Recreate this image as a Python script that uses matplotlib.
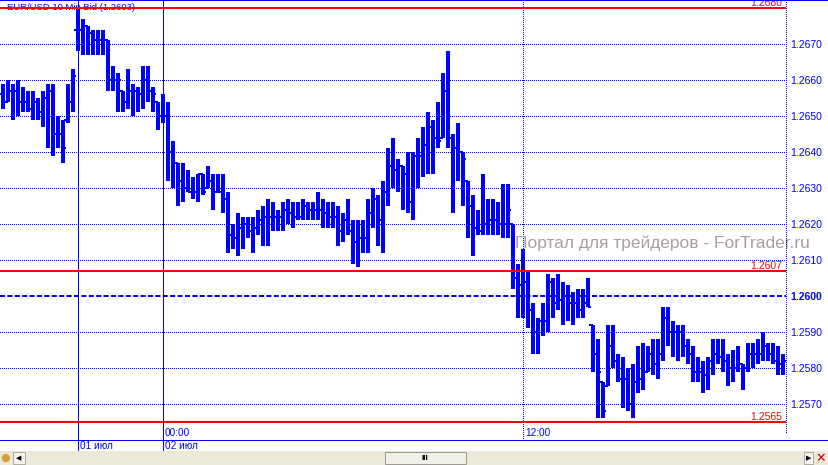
import matplotlib
matplotlib.use('Agg')
import matplotlib.pyplot as plt
from matplotlib.transforms import blended_transform_factory
from matplotlib.patches import Rectangle
from matplotlib.lines import Line2D
import numpy as np

plt.rcParams['font.family'] = ['Liberation Sans', 'DejaVu Sans']

# 10-minute EUR/USD bars
opens = [
    1.2656, 1.2654, 1.2657, 1.2657, 1.2654, 1.2654, 1.2652, 1.2654, 1.2651, 1.2655, 1.2657,
    1.2645, 1.2645, 1.2649, 1.2654, 1.2674, 1.2674, 1.2675, 1.2673, 1.2671, 1.2671, 1.2671,
    1.2660, 1.2660, 1.2657, 1.2654, 1.2657, 1.2657, 1.2656, 1.2660, 1.2657, 1.2654, 1.2650,
    1.2650, 1.2640, 1.2637, 1.2632, 1.2630, 1.2629, 1.2629, 1.2634, 1.2630, 1.2632, 1.2629,
    1.2629, 1.2627, 1.2617, 1.2616, 1.2619, 1.2620, 1.2618, 1.2619, 1.2621, 1.2622, 1.2622,
    1.2622, 1.2622, 1.2624, 1.2623, 1.2622, 1.2622, 1.2625, 1.2624, 1.2624, 1.2624,
    1.2623, 1.2622, 1.2622, 1.2618, 1.2621, 1.2618, 1.2615, 1.2616, 1.2616, 1.2623, 1.2627,
    1.2621, 1.2629, 1.2636, 1.2635, 1.2636, 1.2634, 1.2626, 1.2639, 1.2639, 1.2642, 1.2647,
    1.2644, 1.2644, 1.2657, 1.2644, 1.2641, 1.2640, 1.2632, 1.2625, 1.2619, 1.2618,
    1.2620, 1.2621, 1.2621, 1.2620, 1.2620, 1.2620, 1.2605, 1.2603, 1.2604, 1.2596, 1.2590,
    1.2593, 1.2593, 1.2604, 1.2598, 1.2599, 1.2600, 1.2598, 1.2598, 1.2596, 1.2598, 1.2592,
    1.2584, 1.2576, 1.2575, 1.2586, 1.2582, 1.2577, 1.2577, 1.2570, 1.2576,
    1.2577, 1.2579, 1.2584, 1.2581, 1.2584, 1.2594, 1.2590, 1.2590, 1.2590, 1.2586, 1.2584,
    1.2579, 1.2579, 1.2578, 1.2582, 1.2584, 1.2583, 1.2582, 1.2580, 1.2580, 1.2581, 1.2580,
    1.2584, 1.2584, 1.2584, 1.2586, 1.2584, 1.2582, 1.2581,
]
highs = [
    1.2659, 1.2660, 1.2659, 1.2660, 1.2658, 1.2657, 1.2657, 1.2655, 1.2657, 1.2659, 1.2659,
    1.2650, 1.2649, 1.2659, 1.2663, 1.2680, 1.2677, 1.2675, 1.2674, 1.2674, 1.2674, 1.2671,
    1.2664, 1.2662, 1.2657, 1.2663, 1.2659, 1.2658, 1.2664, 1.2664, 1.2658, 1.2654, 1.2656,
    1.2654, 1.2643, 1.2637, 1.2637, 1.2635, 1.2633, 1.2634, 1.2634, 1.2636, 1.2634, 1.2634,
    1.2634, 1.2629, 1.2620, 1.2623, 1.2622, 1.2622, 1.2622, 1.2624, 1.2625, 1.2627, 1.2626,
    1.2624, 1.2626, 1.2627, 1.2626, 1.2626, 1.2627, 1.2626, 1.2626, 1.2629, 1.2627,
    1.2626, 1.2626, 1.2625, 1.2623, 1.2627, 1.2621, 1.2621, 1.2621, 1.2627, 1.2630, 1.2628,
    1.2632, 1.2641, 1.2644, 1.2638, 1.2636, 1.2640, 1.2640, 1.2644, 1.2647, 1.2651, 1.2649,
    1.2654, 1.2662, 1.2668, 1.2645, 1.2648, 1.2640, 1.2632, 1.2628, 1.2624, 1.2634,
    1.2627, 1.2627, 1.2626, 1.2631, 1.2631, 1.2620, 1.2609, 1.2613, 1.2607, 1.2598, 1.2594,
    1.2598, 1.2606, 1.2605, 1.2606, 1.2604, 1.2603, 1.2601, 1.2602, 1.2602, 1.2605, 1.2592,
    1.2588, 1.2576, 1.2592, 1.2592, 1.2584, 1.2583, 1.2580, 1.2581, 1.2586,
    1.2587, 1.2586, 1.2588, 1.2588, 1.2597, 1.2597, 1.2593, 1.2592, 1.2592, 1.2588, 1.2586,
    1.2583, 1.2582, 1.2583, 1.2588, 1.2588, 1.2588, 1.2584, 1.2585, 1.2586, 1.2581, 1.2587,
    1.2587, 1.2588, 1.2590, 1.2587, 1.2587, 1.2586, 1.2584,
]
lows = [
    1.2652, 1.2654, 1.2649, 1.2650, 1.2651, 1.2651, 1.2649, 1.2649, 1.2647, 1.2641, 1.2639,
    1.2641, 1.2637, 1.2648, 1.2651, 1.2668, 1.2667, 1.2667, 1.2667, 1.2667, 1.2667, 1.2657,
    1.2657, 1.2651, 1.2651, 1.2652, 1.2650, 1.2651, 1.2652, 1.2654, 1.2651, 1.2646, 1.2648,
    1.2632, 1.2630, 1.2625, 1.2626, 1.2629, 1.2627, 1.2626, 1.2628, 1.2630, 1.2624, 1.2629,
    1.2623, 1.2612, 1.2613, 1.2611, 1.2613, 1.2616, 1.2612, 1.2617, 1.2614, 1.2614, 1.2618,
    1.2618, 1.2618, 1.2620, 1.2619, 1.2621, 1.2621, 1.2621, 1.2621, 1.2621, 1.2619,
    1.2619, 1.2619, 1.2614, 1.2615, 1.2617, 1.2609, 1.2608, 1.2612, 1.2612, 1.2619, 1.2614,
    1.2612, 1.2625, 1.2630, 1.2629, 1.2624, 1.2623, 1.2621, 1.2630, 1.2633, 1.2634, 1.2634,
    1.2641, 1.2644, 1.2641, 1.2623, 1.2632, 1.2625, 1.2616, 1.2611, 1.2617, 1.2617,
    1.2617, 1.2617, 1.2617, 1.2616, 1.2616, 1.2602, 1.2594, 1.2594, 1.2591, 1.2584, 1.2584,
    1.2589, 1.2590, 1.2594, 1.2596, 1.2592, 1.2593, 1.2592, 1.2594, 1.2594, 1.2597, 1.2579,
    1.2566, 1.2566, 1.2575, 1.2580, 1.2576, 1.2569, 1.2568, 1.2566, 1.2573,
    1.2574, 1.2579, 1.2578, 1.2577, 1.2582, 1.2586, 1.2583, 1.2582, 1.2583, 1.2581, 1.2576,
    1.2576, 1.2573, 1.2574, 1.2578, 1.2581, 1.2579, 1.2575, 1.2576, 1.2579, 1.2574, 1.2579,
    1.2580, 1.2581, 1.2582, 1.2582, 1.2581, 1.2578, 1.2578,
]
closes = [
    1.2654, 1.2657, 1.2657, 1.2654, 1.2654, 1.2652, 1.2654, 1.2651, 1.2655, 1.2657, 1.2645,
    1.2645, 1.2641, 1.2654, 1.2661, 1.2674, 1.2675, 1.2673, 1.2671, 1.2671, 1.2671, 1.2660,
    1.2660, 1.2660, 1.2654, 1.2657, 1.2657, 1.2656, 1.2660, 1.2657, 1.2656, 1.2650, 1.2650,
    1.2640, 1.2637, 1.2632, 1.2630, 1.2629, 1.2629, 1.2634, 1.2629, 1.2632, 1.2629, 1.2629,
    1.2627, 1.2617, 1.2616, 1.2619, 1.2620, 1.2618, 1.2619, 1.2621, 1.2622, 1.2622, 1.2622,
    1.2622, 1.2624, 1.2623, 1.2622, 1.2622, 1.2625, 1.2624, 1.2624, 1.2624, 1.2623,
    1.2622, 1.2622, 1.2618, 1.2621, 1.2618, 1.2615, 1.2616, 1.2616, 1.2623, 1.2627, 1.2621,
    1.2629, 1.2636, 1.2635, 1.2636, 1.2634, 1.2626, 1.2639, 1.2639, 1.2642, 1.2647, 1.2644,
    1.2643, 1.2657, 1.2644, 1.2641, 1.2640, 1.2638, 1.2625, 1.2619, 1.2618, 1.2620,
    1.2621, 1.2621, 1.2620, 1.2620, 1.2624, 1.2605, 1.2603, 1.2604, 1.2596, 1.2590, 1.2593,
    1.2593, 1.2604, 1.2598, 1.2599, 1.2600, 1.2598, 1.2598, 1.2596, 1.2598, 1.2597, 1.2584,
    1.2579, 1.2568, 1.2586, 1.2582, 1.2577, 1.2577, 1.2570, 1.2576, 1.2577,
    1.2579, 1.2584, 1.2581, 1.2584, 1.2594, 1.2590, 1.2590, 1.2590, 1.2586, 1.2584, 1.2579,
    1.2579, 1.2578, 1.2582, 1.2584, 1.2583, 1.2582, 1.2580, 1.2580, 1.2581, 1.2580, 1.2584,
    1.2584, 1.2584, 1.2586, 1.2584, 1.2582, 1.2581, 1.2582,
]

grid_levels = [1.2570, 1.2580, 1.2590, 1.2610, 1.2620, 1.2630, 1.2640, 1.2650, 1.2660, 1.2670]
axis_levels = [1.2570, 1.2580, 1.2590, 1.2600, 1.2610, 1.2620, 1.2630, 1.2640, 1.2650, 1.2660, 1.2670]
red_levels = [1.2680, 1.2607, 1.2565]
bid_level = 1.2600
title = 'EUR/USD 10 Min Bid (1.2603)'
watermark = 'Портал для трейдеров - ForTrader.ru'
time_labels = {32: '00:00', 104: '12:00'}
date_labels = {15: '01 июл', 32: '02 июл'}
day_lines = [15, 32]
half_day_lines = [104]

BLUE = '#0000ff'
RED = '#ff0000'
W, H = 829, 465
px = 0.72  # one pixel in points at dpi 100

fig = plt.figure(figsize=(W / 100, H / 100), dpi=100)
ax = fig.add_axes([0, 41 / H, 786 / W, 424 / H])
ax.set_xlim(-0.54, 156.66)
ax.set_ylim(1.256444, 1.268222)
for s in ax.spines.values():
    s.set_visible(False)
ax.set_xticks([])

x = np.arange(len(closes))

# grid
for lv in grid_levels:
    ax.axhline(lv, color=BLUE, lw=px, ls=(0, (1, 2)), zorder=1, antialiased=False)
ax.axhline(bid_level, color=BLUE, lw=2 * px, ls=(0, (2.5, 1.2)), zorder=1.5)

blend = blended_transform_factory(ax.transData, ax.transAxes)
for d in day_lines:
    ax.plot([d, d], [1, -27 / 424], color=BLUE, lw=px, transform=blend,
            clip_on=False, zorder=1, antialiased=False)
for d in half_day_lines:
    ax.plot([d, d], [1, -16 / 424], color=BLUE, lw=px, ls=(0, (1, 2)),
            transform=blend, clip_on=False, zorder=1, antialiased=False)
ax.plot([1, 1], [1, -9 / 424], color=BLUE, lw=px, ls=(0, (1, 2)),
        transform=ax.transAxes, clip_on=False, antialiased=False)

# watermark and title
ax.text(515 / 786, 1 - 243 / 424, watermark, transform=ax.transAxes, fontsize=12.5,
        color='#aa9e9e', va='center', ha='left', clip_on=False, zorder=1.2)
ax.text(7 / 786, 1 - 7 / 424, title, transform=ax.transAxes, fontsize=6.8,
        color=BLUE, va='center', ha='left', zorder=1.3)

# OHLC bars
ax.vlines(x, lows, highs, color=BLUE, lw=2.2 * px, zorder=3, antialiased=False)
ax.hlines(opens, x - 0.7, x, color=BLUE, lw=2 * px, zorder=3, antialiased=False)
ax.hlines(closes, x, x + 0.7, color=BLUE, lw=2 * px, zorder=3, antialiased=False)

# red levels
for lv in red_levels:
    ax.axhline(lv, color=RED, lw=2 * px, zorder=4, antialiased=False)
    ax.text(0.995, lv, '%.4f' % lv, transform=blended_transform_factory(ax.transAxes, ax.transData),
            color=RED, fontsize=7.5, ha='right', va='bottom', zorder=4)

# price axis on the right
ax.yaxis.tick_right()
ax.set_yticks(axis_levels)
ax.set_yticklabels(['%.4f' % v for v in axis_levels])
ax.tick_params(axis='y', length=0, pad=3, labelsize=7.5, labelcolor=BLUE)
for lab, v in zip(ax.get_yticklabels(), axis_levels):
    if v == bid_level:
        lab.set_fontweight('bold')

# time scale
for k, t in time_labels.items():
    ax.text(k + 0.45, -9 / 424, t, transform=blend, color=BLUE, fontsize=7.2,
            ha='left', va='center', clip_on=False)
for k, t in date_labels.items():
    ax.text(k + 0.45, -22 / 424, t, transform=blend, color=BLUE, fontsize=7.2,
            ha='left', va='center', clip_on=False)
fig.add_artist(Line2D([0, 1], [1 - 440 / H] * 2, color=BLUE, lw=px, transform=fig.transFigure))
fig.add_artist(Line2D([0, 1], [1 - 0.5 / H] * 2, color=BLUE, lw=2 * px, transform=fig.transFigure))

# scroll bar at the bottom
fig.add_artist(Rectangle((0, 0), 1, 14 / H, transform=fig.transFigure,
                         fc='#ece9d8', ec='none'))
fig.add_artist(Rectangle((13 / W, 1 / H), 12 / W, 12 / H, transform=fig.transFigure,
                         fc='#f4f3ee', ec='#b0aca0', lw=px))
fig.add_artist(Rectangle((385 / W, 1 / H), 81 / W, 12 / H, transform=fig.transFigure,
                         fc='#f0efe8', ec='#9c9a90', lw=px))
fig.add_artist(Rectangle((804 / W, 1 / H), 9 / W, 12 / H, transform=fig.transFigure,
                         fc='#f4f3ee', ec='#b0aca0', lw=px))
fig.text(19 / W, 7 / H, '◀', fontsize=5, color='black', ha='center', va='center',
         family='DejaVu Sans')
fig.text(808.5 / W, 7 / H, '▶', fontsize=5, color='black', ha='center', va='center',
         family='DejaVu Sans')
fig.text(425 / W, 7 / H, 'III', fontsize=6, color='black', ha='center', va='center',
         weight='bold')
fig.text(821 / W, 7 / H, '✕', fontsize=9, color='#cc0000', ha='center', va='center',
         family='DejaVu Sans', weight='bold')
fig.text(5 / W, 7 / H, '●', fontsize=8, color='#d0a040', ha='center', va='center',
         family='DejaVu Sans')

fig.savefig('out.png', dpi=100)
